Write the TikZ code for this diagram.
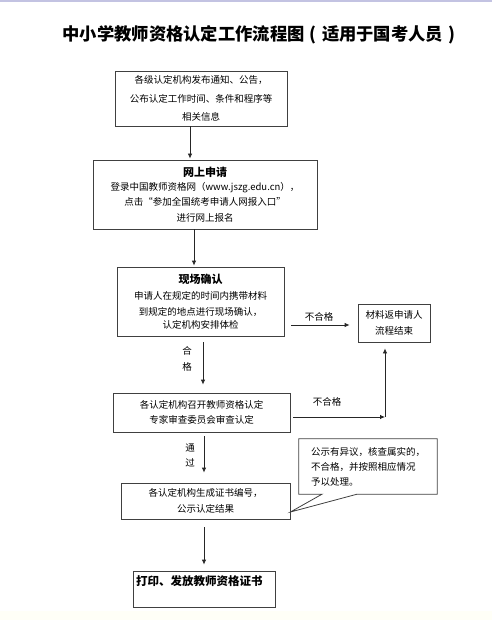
\documentclass[tikz,border=0pt]{standalone}
\usepackage{fontspec}
\setmainfont{Noto Sans CJK SC}
\usetikzlibrary{positioning, arrows.meta}

\begin{document}
\begin{tikzpicture}[x=1pt, y=-1pt,
  box/.style={draw=black!75, line width=0.8pt, align=center, inner sep=0pt, font=\fontsize{9.5}{15.5}\selectfont},
  lbl/.style={align=center, inner sep=0pt, font=\fontsize{9.5}{15.5}\selectfont},
  arr/.style={-{Latex[length=5pt, width=4.5pt]}, line width=0.8pt, black!85}]
\useasboundingbox (0,0) rectangle (492,620);
\fill[blue!35!gray!35] (0,0) rectangle (492,2.5);
\fill[yellow!3] (0,611) rectangle (492,620);
\node[font=\fontsize{17.3}{20}\selectfont\bfseries] (title) at (261.5,35) {中小学教师资格认定工作流程图\makebox[1em]{(}适用于国考人员\makebox[1em]{)}};
\node[box, minimum width=172, minimum height=55, font=\fontsize{9.5}{18.5}\selectfont] (notice) at (201,98.5) {各级认定机构发布通知、公告，\\公布认定工作时间、条件和程序等\\相关信息};
\node[box, minimum width=224, minimum height=69] (apply) at (205,194.5) {{\fontsize{11}{13}\selectfont\bfseries 网上申请}\\[-1.5pt]登录中国教师资格网（www.jszg.edu.cn），\\点击“参加全国统考申请人网报入口”\\进行网上报名};
\node[box, minimum width=167, minimum height=69] (confirm) at (200.5,301.5) {{\fontsize{11}{13}\selectfont\bfseries 现场确认}\\[1pt]申请人在规定的时间内携带材料\\到规定的地点进行现场确认，\\[-2pt]认定机构安排体检};
\node[box, minimum width=72, minimum height=38] (fail) at (394,323) {材料返申请人\\流程结束};
\node[box, minimum width=177, minimum height=39] (review) at (201.5,412.5) {各认定机构召开教师资格认定\\专家审查委员会审查认定};
\node[box, minimum width=169, minimum height=36] (publicize) at (205.5,501) {各认定机构生成证书编号，\\公示认定结果};
\node[lbl, align=left, minimum width=138, minimum height=55, font=\fontsize{9.5}{15}\selectfont] (objection) at (368,466.5) {公示有异议，核查属实的，\\不合格，并按照相应情况\\予以处理。};
\node[box, minimum width=142, minimum height=36, text width=136, align=left, font=\fontsize{11.5}{16}\selectfont\bfseries] (issue) at (204,589) {打印、发放教师资格证书\\\mbox{}};
% callout round the objection note
\draw[draw=black!75, line width=0.8pt] (objection.north west) -- (objection.north east) -- (objection.south east) -- ([xshift=-11pt]objection.south) -- ([yshift=-11pt]publicize.east) -- ([xshift=-46pt]objection.south) -- (objection.south west) -- cycle;
\foreach \a/\b/\dx/\s/\e in {notice/apply/-11/0/1, apply/confirm/-11/0/1, confirm/review/2.5/6/8, review/publicize/2.5/4/10, publicize/issue/-1.5/8/6}
  \draw[arr, shorten <=\s pt, shorten >=\e pt] ([xshift=\dx pt]\a.south) -- ([xshift=\dx pt]\a.south |- \b.north);
\node[lbl] (passA) at (187,359) {合\\格};
\node[lbl, font=\fontsize{9.5}{15}\selectfont] (passB) at (190,455.5) {通\\过};
% not passed
\draw[arr, shorten <=7pt, shorten >=8pt] ([yshift=-23.5pt]confirm.east) -- ([yshift=-23.5pt]confirm.east -| fail.west);
\node[lbl] (rejA) at (319,317) {不合格};
\coordinate (turn) at (385,417);
\draw[arr, shorten <=3pt] (review.east |- turn) -- (turn);
\draw[arr, shorten >=6pt] (turn) -- (turn |- fail.south);
\node[lbl] (rejB) at (327,402) {不合格};
\end{tikzpicture}
\end{document}
